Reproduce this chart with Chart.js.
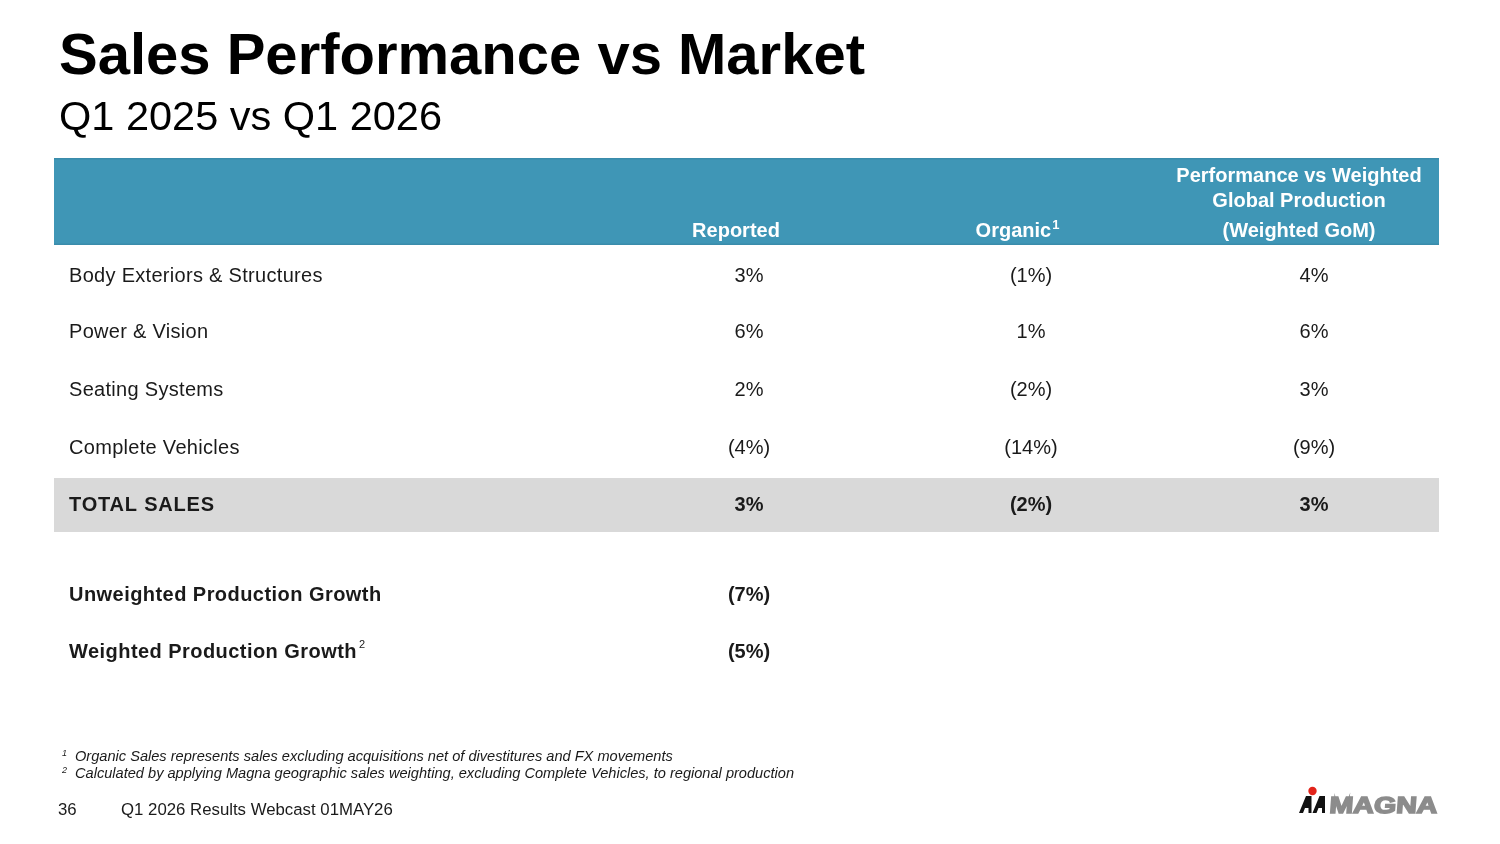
<!DOCTYPE html>
<html>
<head>
<meta charset="utf-8">
<script src="https://cdn.jsdelivr.net/npm/chart.js@4"></script>
<style>
  html, body { margin: 0; padding: 0; background: #ffffff; }
  #wrap { width: 1500px; height: 844px; position: relative; }
</style>
</head>
<body>
<div id="wrap"><canvas id="c"></canvas></div>
<script>
// ---------- DATA ----------
const title = 'Sales Performance vs Market';
const subtitle = 'Q1 2025 vs Q1 2026';
const columnHeaders = [['Reported'], ['Organic'], ['Performance vs Weighted', 'Global Production', '(Weighted GoM)']];
const headerSuperscripts = ['', '1', ''];
const categories = ['Body Exteriors & Structures', 'Power & Vision', 'Seating Systems', 'Complete Vehicles'];
const reported = [3, 6, 2, -4];
const organic = [-1, 1, -2, -14];
const weightedGoM = [4, 6, 3, -9];
const totalLabel = 'TOTAL SALES';
const totalValues = [3, -2, 3];
const productionLabels = ['Unweighted Production Growth', 'Weighted Production Growth'];
const productionSuperscripts = ['', '2'];
const productionValues = [-7, -5];
const footnotes = [
  ['1', 'Organic Sales represents sales excluding acquisitions net of divestitures and FX movements'],
  ['2', 'Calculated by applying Magna geographic sales weighting, excluding Complete Vehicles, to regional production']
];
const pageNumber = '36';
const footerText = 'Q1 2026 Results Webcast 01MAY26';
const logoText = 'MAGNA';

// ---------- LAYOUT (positions in scale units, which map 1:1 to page pixels) ----------
const L = {
  tableLeft: 54, tableRight: 1439,
  headerTop: 158, headerBottom: 245,
  labelX: 69,
  colX: [749, 1031, 1314],
  headerX: [736, 1017, 1299],
  headerLineY: [176, 201, 231],
  rowY: [276, 332, 390, 448],
  totalY: 505, totalTop: 478, totalBottom: 532,
  prodY: [595, 652],
};

const fmt = v => v < 0 ? '(' + (-v) + '%)' : v + '%';
const FONT = '"Liberation Sans", Arial, sans-serif';

// cell anchor points for each value column (drawn as invisible scatter points)
const valueCols = [reported, organic, weightedGoM];
const datasets = valueCols.map((col, ci) => ({
  label: columnHeaders[ci].join(' '),
  data: col.map((v, ri) => ({ x: L.colX[ci], y: L.rowY[ri], v: v })).concat([{ x: L.colX[ci], y: L.totalY, v: totalValues[ci], bold: true }]),
  pointRadius: 0
}));
datasets.push({
  label: 'Production',
  data: productionValues.map((v, i) => ({ x: L.colX[0], y: L.prodY[i], v: v, bold: true })),
  pointRadius: 0
});

const tablePlugin = {
  id: 'tablePlugin',
  beforeDatasetsDraw(chart) {
    const ctx = chart.ctx, xs = chart.scales.x, ys = chart.scales.y;
    const X = v => xs.getPixelForValue(v), Y = v => ys.getPixelForValue(v);
    ctx.save();
    // header band
    ctx.fillStyle = '#3F96B6';
    ctx.fillRect(X(L.tableLeft), Y(L.headerTop), X(L.tableRight) - X(L.tableLeft), Y(L.headerBottom) - Y(L.headerTop));
    ctx.fillStyle = '#3A8CAB';
    ctx.fillRect(X(L.tableLeft), Y(L.headerTop), X(L.tableRight) - X(L.tableLeft), 1.5);
    ctx.fillRect(X(L.tableLeft), Y(L.headerBottom) - 1.5, X(L.tableRight) - X(L.tableLeft), 1.5);
    // total band
    ctx.fillStyle = '#D9D9D9';
    ctx.fillRect(X(L.tableLeft), Y(L.totalTop), X(L.tableRight) - X(L.tableLeft), Y(L.totalBottom) - Y(L.totalTop));
    ctx.restore();
  },
  afterDatasetsDraw(chart) {
    const ctx = chart.ctx, xs = chart.scales.x, ys = chart.scales.y;
    const X = v => xs.getPixelForValue(v), Y = v => ys.getPixelForValue(v);
    ctx.save();

    // Title & subtitle
    ctx.fillStyle = '#000';
    ctx.textAlign = 'left';
    ctx.textBaseline = 'alphabetic';
    ctx.font = 'bold 58px ' + FONT;
    ctx.fillText(title, X(59), Y(74));
    ctx.font = '41.5px ' + FONT;
    ctx.fillText(subtitle, X(59), Y(130));

    // Header text
    ctx.textBaseline = 'middle';
    ctx.fillStyle = '#ffffff';
    columnHeaders.forEach((lines, ci) => {
      const n = lines.length;
      lines.forEach((t, li) => {
        const y = L.headerLineY[L.headerLineY.length - n + li];
        ctx.font = 'bold 20px ' + FONT;
        const sup = headerSuperscripts[ci];
        const w = ctx.measureText(t).width;
        let sw = 0;
        if (sup && li === n - 1) { ctx.font = 'bold 13px ' + FONT; sw = ctx.measureText(sup).width; ctx.font = 'bold 20px ' + FONT; }
        const cx = X(L.headerX[ci]);
        ctx.textAlign = 'left';
        const left = cx - (w + sw) / 2;
        ctx.fillText(t, left, Y(y));
        if (sw) { ctx.font = 'bold 13px ' + FONT; ctx.fillText(sup, left + w + 1, Y(y) - 6); }
      });
    });

    // Row labels
    ctx.fillStyle = '#1a1a1a';
    ctx.textAlign = 'left';
    ctx.font = '20px ' + FONT;
    ctx.letterSpacing = '0.3px';
    categories.forEach((c, i) => ctx.fillText(c, X(L.labelX), Y(L.rowY[i])));
    ctx.font = 'bold 20px ' + FONT;
    ctx.letterSpacing = '0.8px';
    ctx.fillText(totalLabel, X(L.labelX), Y(L.totalY));
    ctx.letterSpacing = '0.45px';
    productionLabels.forEach((c, i) => {
      ctx.font = 'bold 20px ' + FONT;
      ctx.fillText(c, X(L.labelX), Y(L.prodY[i]));
      if (productionSuperscripts[i]) {
        const w = ctx.measureText(c).width;
        ctx.font = '11px ' + FONT;
        ctx.fillText(productionSuperscripts[i], X(L.labelX) + w + 2, Y(L.prodY[i]) - 7);
      }
    });
    ctx.letterSpacing = '0px';

    // Values via dataset point elements
    ctx.textAlign = 'center';
    chart.data.datasets.forEach((ds, di) => {
      const meta = chart.getDatasetMeta(di);
      meta.data.forEach((pt, j) => {
        const raw = ds.data[j];
        ctx.font = (raw.bold ? 'bold ' : '') + '20px ' + FONT;
        ctx.fillText(fmt(raw.v), pt.x, pt.y);
      });
    });

    // Footnotes
    ctx.textAlign = 'left';
    ctx.fillStyle = '#1a1a1a';
    footnotes.forEach((f, i) => {
      const y = Y(757 + i * 17);
      ctx.font = 'italic 9px ' + FONT;
      ctx.fillText(f[0], X(62), y - 4);
      ctx.font = 'italic 14.6px ' + FONT;
      ctx.fillText(f[1], X(75), y);
    });

    // Footer
    ctx.font = '16.8px ' + FONT;
    ctx.fillStyle = '#1a1a1a';
    ctx.fillText(pageNumber, X(58), Y(810));
    ctx.fillText(footerText, X(121), Y(810));

    // Logo
    const lx = X(1299), ly = Y(813), h = 17;
    ctx.fillStyle = '#111';
    const glyph = (x0) => {
      ctx.beginPath();
      ctx.moveTo(x0, ly);
      ctx.lineTo(x0 + 7, ly - h);
      ctx.lineTo(x0 + 12.5, ly - h);
      ctx.lineTo(x0 + 12.5, ly);
      ctx.lineTo(x0 + 9.5, ly);
      ctx.lineTo(x0 + 9.5, ly - 5);
      ctx.lineTo(x0 + 6, ly - 5);
      ctx.lineTo(x0 + 4, ly);
      ctx.closePath();
      ctx.fill();
    };
    glyph(lx);
    glyph(lx + 13.5);
    ctx.fillStyle = '#E2231A';
    ctx.beginPath(); ctx.arc(lx + 13.5, ly - h - 5, 4.2, 0, Math.PI * 2); ctx.fill();
    ctx.fillStyle = '#8C8C8C';
    ctx.strokeStyle = '#8C8C8C';
    ctx.lineWidth = 1.6;
    ctx.font = 'bold 23px ' + FONT;
    ctx.textBaseline = 'alphabetic';
    ctx.save();
    ctx.translate(X(1329), ly);
    const tw = ctx.measureText(logoText).width;
    ctx.scale(108 / tw, 1);
    ctx.transform(1, 0, -0.06, 1, 0, 0);
    ctx.fillText(logoText, 0, 0);
    ctx.strokeText(logoText, 0, 0);
    ctx.restore();
    ctx.restore();
  }
};

new Chart(document.getElementById('c'), {
  type: 'scatter',
  data: { datasets },
  options: {
    responsive: true,
    maintainAspectRatio: false,
    animation: false,
    layout: { padding: 0 },
    plugins: { legend: { display: false }, tooltip: { enabled: false } },
    scales: {
      x: { type: 'linear', min: 0, max: 1500, display: false },
      y: { type: 'linear', min: 0, max: 844, reverse: true, display: false }
    }
  },
  plugins: [tablePlugin]
});
</script>
</body>
</html>
